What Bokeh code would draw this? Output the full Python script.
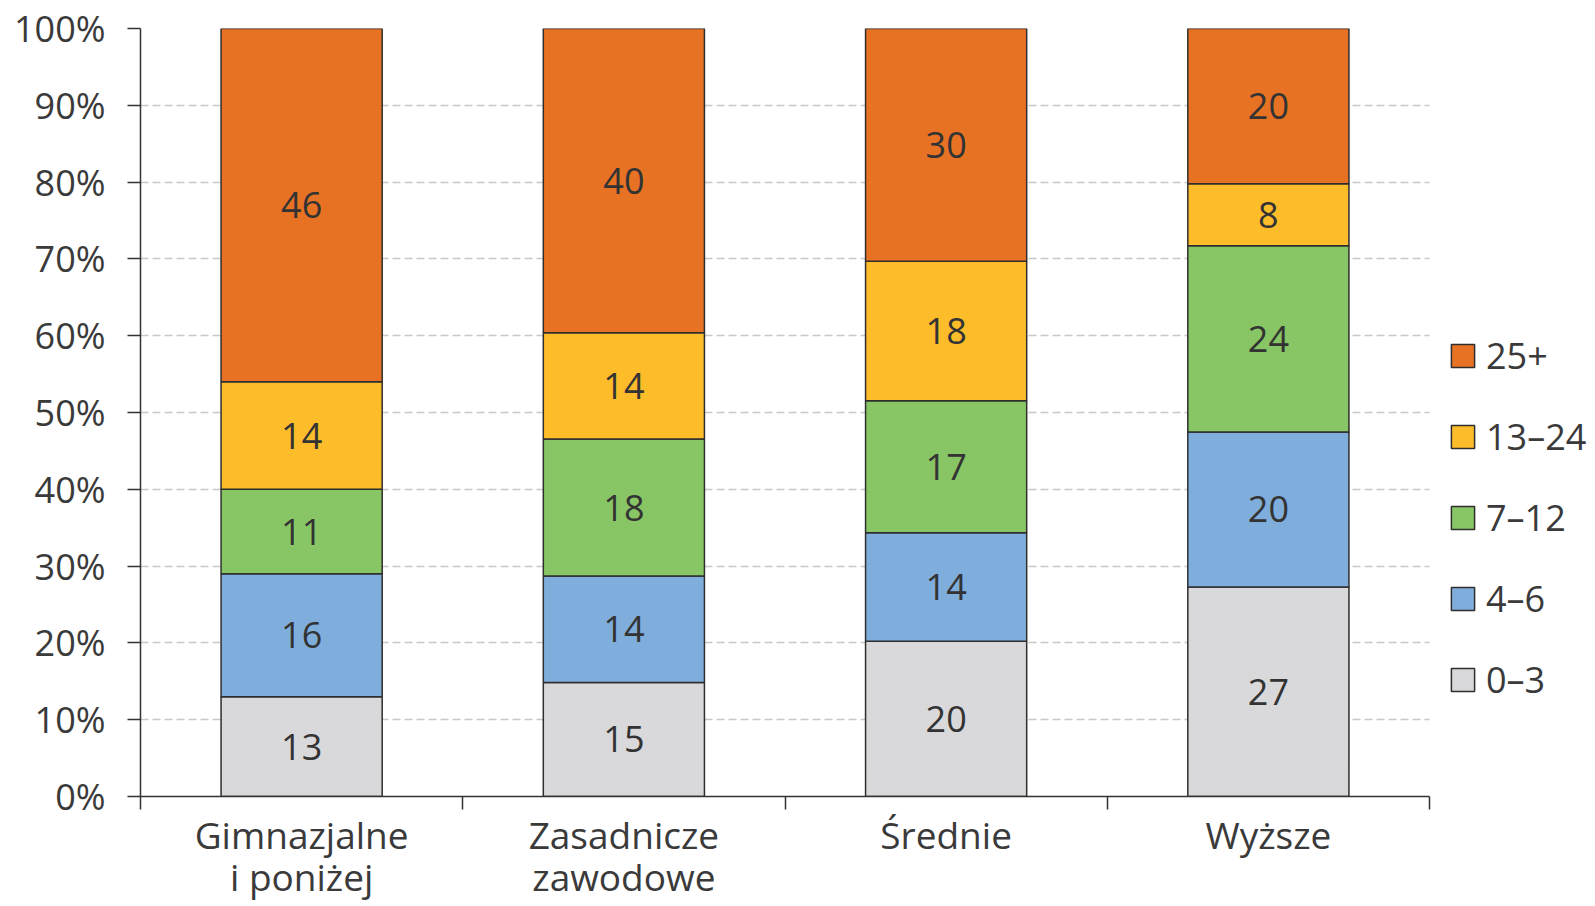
from bokeh.plotting import figure
from bokeh.models import ColumnDataSource, Range1d, FixedTicker, Legend, LegendItem, Grid
from bokeh.embed import file_html
from bokeh.resources import INLINE
from bokeh.core.properties import value

# ---- data ----
categories = ["Gimnazjalne\ni poniżej", "Zasadnicze\nzawodowe", "Średnie", "Wyższe"]
series = ["0–3", "4–6", "7–12", "13–24", "25+"]
v_0_3 = [13, 15, 20, 27]
v_4_6 = [16, 14, 14, 20]
v_7_12 = [11, 18, 17, 24]
v_13_24 = [14, 14, 18, 8]
v_25_plus = [46, 40, 30, 20]
colors = ["#D9D9DB", "#7FAEDD", "#88C665", "#FDBC2A", "#E87224"]
y_ticks = [0, 10, 20, 30, 40, 50, 60, 70, 80, 90, 100]
y_tick_labels = ["0%", "10%", "20%", "30%", "40%", "50%", "60%", "70%", "80%", "90%", "100%"]

values = [v_0_3, v_4_6, v_7_12, v_13_24, v_25_plus]
FONT = "Open Sans"
TXT = "#3a3a3a"
N = len(categories)

# positions of categories on a numeric axis (centre of each slot)
xs = [i + 0.5 for i in range(N)]
totals = [sum(v[i] for v in values) for i in range(N)]

data = {"x": xs}
keys = []
for k, vals in enumerate(values):
    key = f"s{k}"
    keys.append(key)
    data[key] = [vals[i] / totals[i] * 100 for i in range(N)]
source = ColumnDataSource(data)

# labels at the middle of each segment
lx, ly, lt = [], [], []
for i in range(N):
    cum = 0.0
    for vals in values:
        h = vals[i] / totals[i] * 100
        lx.append(xs[i]); ly.append(cum + h / 2); lt.append(str(vals[i]))
        cum += h
lsource = ColumnDataSource(dict(x=lx, y=ly, t=lt))

# frame is wider than the category area, to hold the legend on the right
FRAME_W = 1450
CAT_W = 1289
x_end = N * FRAME_W / CAT_W

p = figure(width=1593, height=904, x_range=Range1d(0, x_end),
           y_range=Range1d(0, 100), output_backend="svg", toolbar_location=None,
           min_border_left=140, min_border_right=3, min_border_top=28,
           min_border_bottom=100)
p.outline_line_color = None
p.background_fill_color = "white"

# horizontal dashed grid lines limited to the category area
p.xgrid.grid_line_color = None
if "cross_bounds" in Grid.properties():
    p.ygrid.ticker = FixedTicker(ticks=y_ticks)
    p.ygrid.cross_bounds = (0, N)
    p.ygrid.grid_line_color = "#c8c8c8"
    p.ygrid.grid_line_width = 1.5
    p.ygrid.grid_line_dash = "8 4"
else:
    p.ygrid.grid_line_color = None
    p.segment(x0=[0] * len(y_ticks), x1=[N] * len(y_ticks), y0=y_ticks, y1=y_ticks,
              line_color="#c8c8c8", line_width=1.5, line_dash="8 4")

renderers = p.vbar_stack(keys, x="x", width=0.5, source=source, fill_color=colors,
                         line_color="#2e2e2e", line_width=1.5)

p.text(x="x", y="y", text="t", source=lsource, text_font=value(FONT),
       text_font_size="36px", text_color="#333333", text_align="center",
       text_baseline="middle")

# y axis
p.yaxis.ticker = FixedTicker(ticks=y_ticks)
p.yaxis.major_label_overrides = {t: l for t, l in zip(y_ticks, y_tick_labels)}
p.yaxis.major_label_text_font = FONT
p.yaxis.major_label_text_font_size = "36px"
p.yaxis.major_label_text_color = TXT
p.yaxis.major_tick_out = 13
p.yaxis.major_tick_in = 0
p.yaxis.minor_tick_line_color = None
p.yaxis.axis_line_width = 1.5
p.yaxis.axis_line_color = "#333333"
p.yaxis.major_tick_line_width = 1.5
p.yaxis.major_tick_line_color = "#333333"
p.yaxis.major_label_standoff = 22

# x axis: labels at slot centres, ticks at slot boundaries
p.xaxis.bounds = (0, N)
p.xaxis.ticker = FixedTicker(ticks=xs, minor_ticks=list(range(N + 1)))
p.xaxis.major_label_overrides = {x: c for x, c in zip(xs, categories)}
p.xaxis.major_label_text_font = FONT
p.xaxis.major_label_text_font_size = "37px"
p.xaxis.major_label_text_color = TXT
p.xaxis.major_label_text_line_height = 0.83
p.xaxis.major_tick_out = 0
p.xaxis.major_tick_in = 0
p.xaxis.minor_tick_out = 13
p.xaxis.minor_tick_in = 0
p.xaxis.minor_tick_line_width = 1.5
p.xaxis.minor_tick_line_color = "#333333"
p.xaxis.axis_line_width = 1.5
p.xaxis.axis_line_color = "#333333"
p.xaxis.major_label_standoff = -1

items = [LegendItem(label=series[k], renderers=[renderers[k]]) for k in reversed(range(len(series)))]
legend = Legend(items=items, location=(1308, 92), glyph_width=29, glyph_height=29,
                label_text_font=FONT, label_text_font_size="36px",
                label_text_color=TXT, label_height=40, spacing=32, padding=0,
                margin=0, border_line_color=None, background_fill_alpha=0,
                label_standoff=9)
p.add_layout(legend, "center")

open("out.html", "w").write(file_html(p, INLINE))
